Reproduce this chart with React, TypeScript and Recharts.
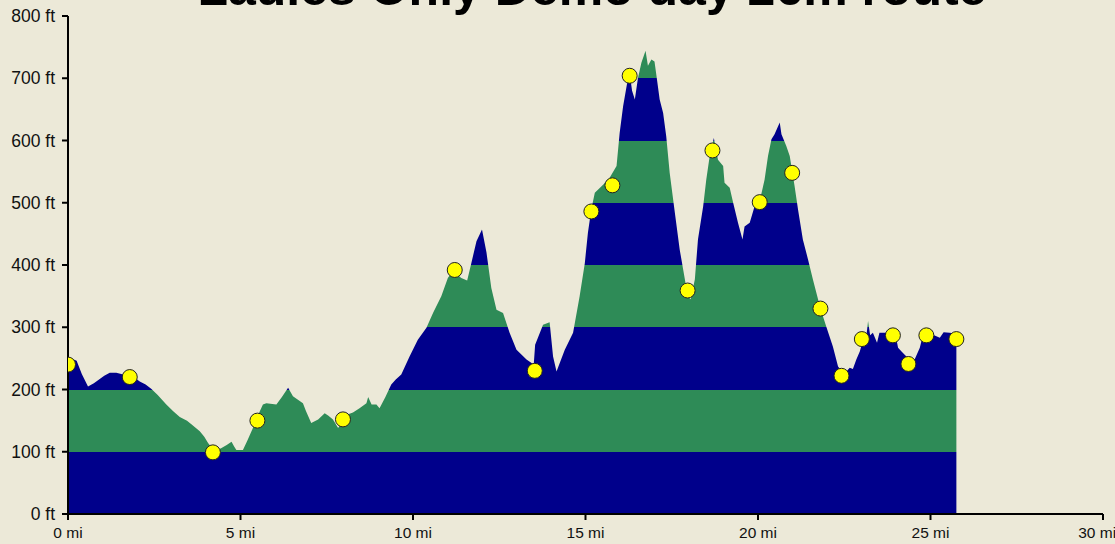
import React from 'react';
import { ComposedChart, Area, Scatter, XAxis, YAxis } from 'recharts';

// distance along route (mi)
const miles = [
  0, 0.1, 0.25, 0.4, 0.58, 0.75, 0.92, 1.05, 1.21, 1.4, 1.6, 1.79, 1.95, 2.08, 2.25, 2.42, 2.6, 2.85, 3.05, 3.24,
  3.45, 3.62, 3.82, 3.95, 4.06, 4.2, 4.3, 4.45, 4.6, 4.74, 4.82, 4.88, 5.07, 5.2, 5.36, 5.5, 5.65, 5.75, 6.04, 6.2,
  6.38, 6.52, 6.81, 6.9, 7.05, 7.25, 7.44, 7.55, 7.68, 7.83, 7.97, 8.1, 8.26, 8.45, 8.65, 8.7, 8.8, 8.94, 9.03, 9.2,
  9.37, 9.5, 9.66, 9.9, 10.14, 10.39, 10.58, 10.82, 11.01, 11.15, 11.4, 11.57, 11.69, 11.84, 12.0, 12.13, 12.27, 12.42, 12.61, 12.8,
  13.0, 13.29, 13.5, 13.54, 13.77, 13.96, 14.06, 14.16, 14.4, 14.64, 14.83, 14.98, 15.07, 15.17, 15.27, 15.51, 15.7, 15.9, 15.99, 16.09,
  16.2, 16.28, 16.35, 16.43, 16.52, 16.62, 16.74, 16.81, 16.91, 17.0, 17.06, 17.15, 17.25, 17.34, 17.44, 17.59, 17.73, 17.88, 17.96, 18.05,
  18.17, 18.26, 18.41, 18.5, 18.6, 18.72, 18.84, 18.99, 19.03, 19.18, 19.28, 19.42, 19.55, 19.61, 19.76, 19.9, 20.05, 20.19, 20.29, 20.39,
  20.48, 20.63, 20.68, 20.82, 20.92, 21.06, 21.16, 21.3, 21.45, 21.59, 21.81, 21.98, 22.17, 22.32, 22.45, 22.56, 22.66, 22.75, 22.85, 22.95,
  23.05, 23.15, 23.19, 23.25, 23.33, 23.45, 23.52, 23.72, 23.91, 24.01, 24.06, 24.16, 24.36, 24.54, 24.69, 24.78, 24.88, 25.07, 25.27, 25.38,
  25.55, 25.75,
];

// elevation (ft)
const elevation = [
  248, 250, 246, 225, 205, 210, 217, 222, 227, 227, 224, 222, 218, 213, 208, 201, 191, 176, 165, 156,
  150, 142, 133, 124, 114, 104, 102, 106, 111, 116, 108, 103, 103, 118, 138, 158, 176, 178, 176, 188,
  203, 189, 178, 165, 146, 152, 162, 158, 152, 138, 150, 160, 163, 170, 178, 188, 176, 176, 170, 188,
  208, 216, 224, 253, 280, 299, 323, 350, 379, 390, 379, 375, 403, 438, 457, 420, 363, 328, 323, 291,
  264, 248, 240, 272, 304, 308, 253, 229, 264, 291, 350, 403, 452, 490, 516, 529, 540, 559, 612, 655,
  690, 708, 680, 666, 700, 725, 744, 720, 730, 727, 703, 666, 644, 607, 548, 484, 425, 377, 350, 345,
  377, 441, 494, 537, 575, 604, 569, 559, 532, 524, 500, 468, 441, 462, 468, 494, 503, 537, 575, 602,
  610, 629, 610, 591, 575, 527, 489, 441, 409, 377, 330, 301, 269, 237, 228, 229, 235, 233, 248, 261,
  280, 290, 310, 287, 291, 275, 291, 291, 291, 281, 267, 261, 250, 248, 267, 287, 290, 288, 283, 292,
  291, 290,
];

// waypoints
const waypointMiles = [0, 1.79, 4.2, 5.49, 7.97, 11.21, 13.53, 15.17, 15.78, 16.28, 17.96, 18.68, 20.05, 20.99, 21.81, 22.42, 23.01, 23.91, 24.36, 24.88, 25.75];
const waypointFeet = [240, 220, 99, 150, 152, 392, 230, 486, 528, 704, 359, 584, 501, 548, 330, 222, 281, 287, 241, 287, 281];

const xTicks = [0, 5, 10, 15, 20, 25, 30];
const yTicks = [0, 100, 200, 300, 400, 500, 600, 700, 800];
const title = 'Ladies Only Demo day 26m route';

const profile = miles.map((mi, i) => ({ mi, ft: elevation[i] }));
const waypoints = waypointMiles.map((mi, i) => ({ mi, ft: waypointFeet[i] }));

const W = 1115;
const H = 544;
const M_TOP = 16;
const X_AXIS_H = 30;
const PLOT_BOTTOM = H - X_AXIS_H;
const NAVY = '#00008B';
const GREEN = '#2E8B57';
const BG = '#ECE9D8';
const FONT = '"Liberation Sans", Arial, sans-serif';

const bandStops: { off: number; color: string }[] = [];
for (let b = 0; b < 8; b++) {
  // b=0 is top band (700-800)
  const color = b % 2 === 0 ? GREEN : NAVY;
  bandStops.push({ off: b / 8, color });
  bandStops.push({ off: (b + 1) / 8, color });
}

const Dot = (props: any) => {
  const { cx, cy } = props;
  if (cx == null || cy == null) return null;
  return <circle cx={cx} cy={cy} r={7.5} fill="#FFFF00" stroke="#222" strokeWidth={1} />;
};

export default function App() {
  return (
    <div style={{ position: 'fixed', left: 0, top: 0, width: W, height: H, background: BG, overflow: 'hidden' }}>
      <svg width={W} height={H} style={{ position: 'absolute', left: 0, top: 0 }}>
        <text x={592} y={5} textAnchor="middle" fontFamily={FONT} fontWeight="bold" fontSize={50} fill="#000">
          {title}
        </text>
      </svg>
      <div style={{ position: 'absolute', left: 0, top: 0 }}>
        <ComposedChart width={W} height={H} data={profile} margin={{ top: M_TOP, right: 12, bottom: 0, left: 0 }}>
          <defs>
            <linearGradient id="bands" gradientUnits="userSpaceOnUse" x1="0" x2="0" y1={M_TOP} y2={PLOT_BOTTOM}>
              {bandStops.map((s, i) => (
                <stop key={i} offset={s.off} stopColor={s.color} />
              ))}
            </linearGradient>
          </defs>
          <XAxis
            dataKey="mi"
            type="number"
            domain={[0, 30]}
            ticks={xTicks}
            allowDataOverflow
            height={X_AXIS_H}
            tickFormatter={(v: number) => `${v} mi`}
            axisLine={{ stroke: '#000', strokeWidth: 2 }}
            tickLine={{ stroke: '#000', strokeWidth: 2 }}
            tickSize={6}
            tickMargin={7}
            tick={{ fill: '#111', fontSize: 15.5, fontFamily: FONT }}
          />
          <YAxis
            type="number"
            domain={[0, 800]}
            ticks={yTicks}
            width={68}
            tickFormatter={(v: number) => `${v} ft`}
            axisLine={{ stroke: '#000', strokeWidth: 2 }}
            tickLine={{ stroke: '#000', strokeWidth: 2 }}
            tickSize={6}
            tickMargin={7}
            tick={{ fill: '#111', fontSize: 17.5, fontFamily: FONT }}
          />
          <Area
            type="linear"
            dataKey="ft"
            stroke="none"
            fill="url(#bands)"
            fillOpacity={1}
            isAnimationActive={false}
            dot={false}
            activeDot={false}
          />
          <Scatter data={waypoints} dataKey="ft" shape={<Dot />} isAnimationActive={false} />
        </ComposedChart>
      </div>
    </div>
  );
}
